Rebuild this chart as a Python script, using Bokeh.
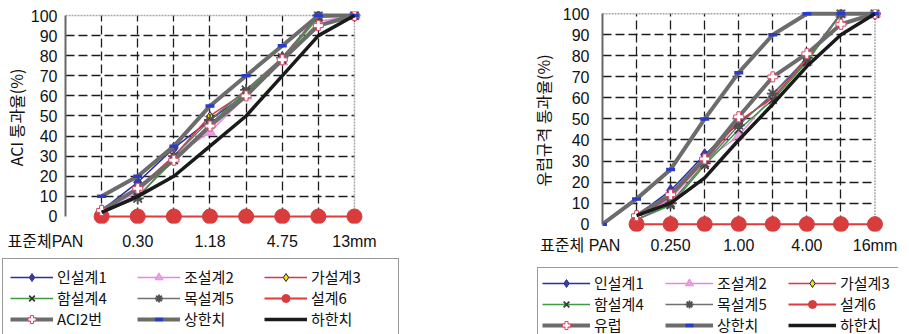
from bokeh.plotting import figure
from bokeh.models import Legend, LegendItem, FixedTicker, Spacer
from bokeh.layouts import row, column
from bokeh.embed import file_html
from bokeh.resources import INLINE

nan = float("nan")

# ---------------- data: left chart (ACI) ----------------
aci_sieves = ["PAN", "0.15", "0.30", "0.60", "1.18", "2.36", "4.75", "9.5", "13mm"]
aci_d1 = [nan, 3, 17, 34, 48, 61, 79, 100, 100]
aci_d2 = [nan, 3, 12, 30, 42, 60, 77, 97, 100]
aci_d3 = [nan, 3, 14, 30, 50, 62, 79, 100, 100]
aci_d4 = [nan, 2, 10, 28, 46, 62, 78, 99, 100]
aci_d5 = [nan, 2, 9, 30, 48, 63, 79, 100, 100]
aci_d6 = [nan, 0, 0, 0, 0, 0, 0, 0, 0]
aci_std = [nan, 3, 14, 28, 45, 60, 78, 95, 100]
aci_upper = [nan, 10, 20, 35, 55, 70, 85, 100, 100]
aci_lower = [nan, 2, 10, 20, 35, 50, 70, 90, 100]

# ---------------- data: right chart (EU) ----------------
eu_sieves = ["PAN", "0.125", "0.250", "0.50", "1.00", "2.00", "4.00", "8.00", "16mm"]
eu_d1 = [nan, 4, 16, 33, 48, 61, 79, 100, 100]
eu_d2 = [nan, 3, 12, 30, 42, 61, 77, 100, 100]
eu_d3 = [nan, 3, 13, 30, 49, 60, 78, 100, 100]
eu_d4 = [nan, 2, 9, 28, 45, 59, 77, 100, 100]
eu_d5 = [nan, 2, 10, 29, 47, 62, 79, 100, 100]
eu_d6 = [nan, 0, 0, 0, 0, 0, 0, 0, 0]
eu_std = [nan, 4, 14, 31, 51, 70, 81, 95, 100]
eu_upper = [0, 12, 26, 50, 72, 90, 100, 100, 100]
eu_lower = [nan, 4, 10, 22, 40, 57, 75, 90, 100]

design_names = ["인설계1", "조설계2", "가설계3", "함설계4", "목설계5", "설계6"]
y_ticks = list(range(0, 101, 10))

KFONT = "Noto Sans CJK KR"
NFONT = "Liberation Sans, Noto Sans CJK KR"
NBSP = "\u00a0"

DESIGN_STYLES = [
    dict(lc="#2b2f9e", marker="diamond", size=12, fc="#3b3b9a", mc="#2b2f9e", lw=1.5, mw=1),
    dict(lc="#e58ad8", marker="triangle", size=11, fc="#e8a0e0", mc="#e090d8", lw=1.5, mw=1),
    dict(lc="#e03348", marker="diamond", size=9, fc="#f5e600", mc="#222222", lw=1.5, mw=1),
    dict(lc="#3d9c3d", marker="x", size=11, fc="#3a3a3a", mc="#3a3a3a", lw=1.5, mw=1.8),
    dict(lc="#707070", marker="asterisk", size=12, fc="#505050", mc="#505050", lw=1.5, mw=1.8),
    dict(lc="#e03a3a", marker="circle", size=15, fc="#d83c3c", mc="#d83c3c", lw=2, mw=1),
]


def draw_series(p, x, designs, std, upper, lower, std_name):
    items = []
    for name, ys_, st in zip(design_names, designs, DESIGN_STYLES):
        r1 = p.line(x, ys_, line_color=st["lc"], line_width=st["lw"])
        r2 = p.scatter(x, ys_, marker=st["marker"], size=st["size"], fill_color=st["fc"],
                       line_color=st["mc"], line_width=st["mw"])
        items.append(LegendItem(label=name, renderers=[r1, r2]))
    r1 = p.line(x, std, line_color="#6c6c6c", line_width=4)
    r2 = p.scatter(x, std, marker="plus", size=10, fill_color="white", line_color="#d84a66", line_width=1)
    items.append(LegendItem(label=std_name, renderers=[r1, r2]))
    r1 = p.line(x, upper, line_color="#6c6c6c", line_width=4)
    r2 = p.scatter(x, upper, marker="dash", size=9, line_color="#2a3cc8", line_width=3.5)
    items.append(LegendItem(label="상한치", renderers=[r1, r2]))
    r1 = p.line(x, lower, line_color="#1a1a1a", line_width=3.5)
    items.append(LegendItem(label="하한치", renderers=[r1]))
    return items


def make_chart(sieves, designs, std, upper, lower, std_name, ytitle, pan_label, pan_pad,
               frame_w, frame_h, mb_left, mb_right, mb_top, mb_bottom,
               lab_standoff, title_standoff, x_standoff):
    x = list(range(len(sieves)))
    xmax = x[-1]
    p = figure(frame_width=frame_w, frame_height=frame_h,
               x_range=(0, xmax + 0.25), y_range=(-3.5, 102),
               output_backend="svg", toolbar_location=None,
               min_border_left=mb_left, min_border_top=mb_top,
               min_border_right=mb_right, min_border_bottom=mb_bottom)
    p.outline_line_color = None

    # dashed grid at every inner category and every inner y tick
    p.xgrid.ticker = FixedTicker(ticks=x[1:-1], minor_ticks=[])
    p.ygrid.ticker = FixedTicker(ticks=y_ticks[1:-1], minor_ticks=[])
    for g, cb in ((p.xgrid[0], (0, 100)), (p.ygrid[0], (0, xmax))):
        g.grid_line_color = "#1c1c1c"
        g.grid_line_width = 1.3
        g.grid_line_dash = "9 4"
        if "cross_bounds" in g.properties():
            g.cross_bounds = cb
    # plot-area border (top and right, light dotted)
    p.line([0, xmax], [100, 100], line_color="#a8a8a8", line_width=1.5, line_dash="2 1")
    p.line([xmax, xmax], [0, 100], line_color="#a8a8a8", line_width=1.5, line_dash="2 1")

    draw_series(p, x, designs, std, upper, lower, std_name)

    # axes
    p.yaxis.ticker = FixedTicker(ticks=y_ticks, minor_ticks=[])
    p.xaxis.ticker = FixedTicker(ticks=x[::2], minor_ticks=[])
    overrides = {i: sieves[i] for i in x[::2]}
    overrides[0] = pan_label + NBSP * pan_pad
    p.xaxis.major_label_overrides = overrides
    for ax in (p.xaxis[0], p.yaxis[0]):
        ax.major_tick_line_color = None
        ax.major_tick_out = 0
        ax.major_tick_in = 0
        ax.minor_tick_line_color = None
        ax.minor_tick_out = 0
        ax.major_label_text_font = NFONT
        ax.major_label_text_font_size = "16px"
        ax.major_label_text_color = "#111111"
    p.xaxis.axis_line_color = None
    # left border of the plot area is the y axis line
    p.yaxis.axis_line_color = "#666666"
    p.yaxis.axis_line_width = 2
    p.yaxis.bounds = (0, 100)
    p.yaxis.major_label_standoff = lab_standoff
    p.xaxis.major_label_standoff = x_standoff
    p.yaxis.axis_label = ytitle
    p.yaxis.axis_label_text_font = KFONT
    p.yaxis.axis_label_text_font_size = "16px"
    p.yaxis.axis_label_text_font_style = "normal"
    p.yaxis.axis_label_text_color = "#111111"
    p.yaxis.axis_label_standoff = title_standoff
    return p


def make_legend_fig(frame_w, frame_h, sieves, designs, std, upper, lower, std_name,
                    glyph_w, label_w, pad, margin):
    lf = figure(frame_width=frame_w, frame_height=frame_h, x_range=(100, 101), y_range=(100, 101),
                x_axis_location=None, y_axis_location=None,
                output_backend="svg", toolbar_location=None,
                min_border_left=0, min_border_right=0, min_border_top=0, min_border_bottom=0)
    lf.outline_line_color = None
    lf.xgrid.visible = False
    lf.ygrid.visible = False
    # legend proxies: same series, outside the visible range of this strip
    items = draw_series(lf, list(range(len(sieves))), designs, std, upper, lower, std_name)
    leg = Legend(items=items, ncols=3, orientation="horizontal", location="top_left",
                 glyph_width=glyph_w, glyph_height=20,
                 label_height=20, label_width=label_w, label_standoff=4, spacing=0,
                 padding=pad, margin=margin, border_line_color="#333333", border_line_width=1.5,
                 background_fill_alpha=1.0, label_text_font=KFONT, label_text_font_size="15px",
                 label_text_color="#111111")
    lf.add_layout(leg, "center")
    return lf


aci_designs = [aci_d1, aci_d2, aci_d3, aci_d4, aci_d5, aci_d6]
eu_designs = [eu_d1, eu_d2, eu_d3, eu_d4, eu_d5, eu_d6]

p1 = make_chart(aci_sieves, aci_designs, aci_std, aci_upper, aci_lower, "ACI2번",
                "ACI 통과율(%)", "표준체PAN", 9,
                frame_w=298, frame_h=212, mb_left=60, mb_right=164, mb_top=11, mb_bottom=33,
                lab_standoff=8, title_standoff=0, x_standoff=9)
l1 = make_legend_fig(522, 78, aci_sieves, aci_designs, aci_std, aci_upper, aci_lower, "ACI2번",
                     glyph_w=43, label_w=80, pad=7, margin=2)

p2 = make_chart(eu_sieves, eu_designs, eu_std, eu_upper, eu_lower, "유럽",
                "유럽규격 통과율(%)", "표준체 PAN", 10,
                frame_w=281, frame_h=222, mb_left=75, mb_right=15, mb_top=9, mb_bottom=35,
                lab_standoff=13, title_standoff=5, x_standoff=5)
l2 = make_legend_fig(362, 68, eu_sieves, eu_designs, eu_std, eu_upper, eu_lower, "유럽",
                     glyph_w=48, label_w=71, pad=4, margin=1)

layout = row(column(p1, l1), column(p2, row(Spacer(width=9, height=68), l2)))
open("out.html", "w").write(file_html(layout, INLINE))
